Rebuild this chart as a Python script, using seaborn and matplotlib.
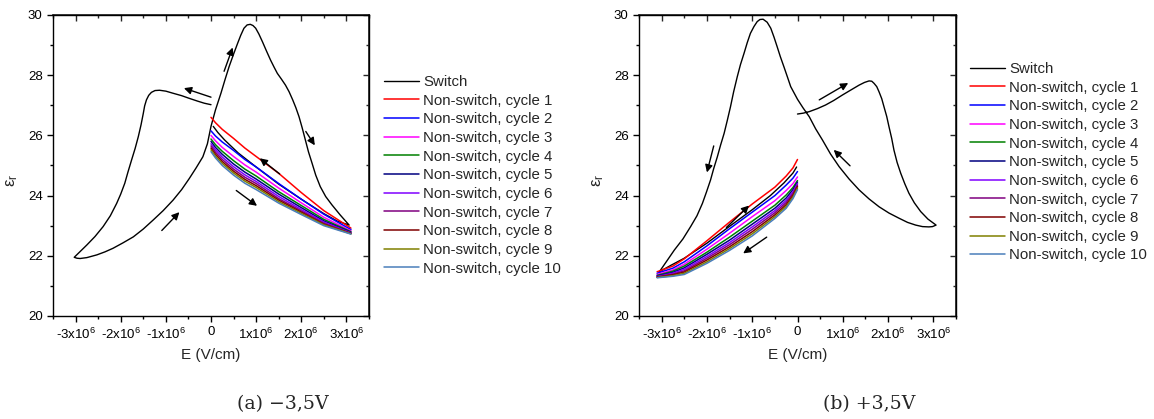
import numpy as np
import pandas as pd
import matplotlib
matplotlib.use("Agg")
import matplotlib.pyplot as plt
import seaborn as sns


# data (E in units of 1e6 V/cm, eps_r)
# panel (a) -3,5V : switch loop, in drawing order
sw_a_E = [0.0, -0.15, -0.3, -0.48, -0.65, -0.84, -1.0, -1.14, -1.24, -1.32, -1.38, -1.43, -1.47, -1.50,
          -1.55, -1.61, -1.68, -1.76, -1.84, -1.91, -2.0, -2.09, -2.23, -2.39, -2.57, -2.75, -2.9, -3.03,
          -2.97, -2.90, -2.75, -2.53, -2.35, -2.17, -1.95, -1.72, -1.5, -1.28, -1.06, -0.84, -0.65, -0.48,
          -0.33, -0.18, -0.08, 0.0, 0.1, 0.22, 0.31, 0.40, 0.5, 0.59, 0.66, 0.73, 0.8, 0.87, 0.93, 0.99,
          1.06, 1.14, 1.23, 1.32, 1.4, 1.47, 1.56, 1.65, 1.73, 1.81, 1.88, 1.95, 2.02, 2.09, 2.16, 2.24,
          2.32, 2.42, 2.54, 2.68, 2.86, 3.06,
          2.8, 2.5, 2.0, 1.5, 1.0, 0.6, 0.3, 0.15, 0.05]
sw_a_eps = [27.02, 27.07, 27.14, 27.23, 27.32, 27.40, 27.47, 27.50, 27.49, 27.43, 27.33, 27.18, 26.98, 26.73,
            26.35, 25.96, 25.57, 25.18, 24.78, 24.41, 24.05, 23.74, 23.33, 22.97, 22.64, 22.36, 22.14, 21.95,
            21.92, 21.91, 21.94, 22.03, 22.13, 22.25, 22.43, 22.63, 22.89, 23.19, 23.50, 23.85, 24.20, 24.57,
            24.92, 25.29, 25.72, 26.30, 26.85, 27.40, 27.85, 28.28, 28.70, 29.06, 29.33, 29.56, 29.67, 29.69, 29.65, 29.56,
            29.37, 29.11, 28.80, 28.50, 28.26, 28.06, 27.87, 27.67, 27.45, 27.18, 26.92, 26.62, 26.25, 25.85, 25.45, 25.07,
            24.68, 24.30, 23.97, 23.69, 23.36, 23.02,
            23.15, 23.40, 23.88, 24.38, 24.95, 25.42, 25.85, 26.10, 26.30]

ns_a_E = [0.0, 0.1, 0.25, 0.5, 0.75, 1.0, 1.5, 2.0, 2.5, 3.1]
ns_a_eps = {
    1: [26.60, 26.42, 26.20, 25.90, 25.58, 25.30, 24.74, 24.10, 23.50, 22.92],
    2: [26.15, 25.98, 25.78, 25.50, 25.20, 24.95, 24.40, 23.88, 23.38, 22.87],
    3: [26.00, 25.82, 25.60, 25.30, 25.02, 24.78, 24.25, 23.76, 23.28, 22.83],
    4: [25.88, 25.69, 25.47, 25.16, 24.88, 24.65, 24.13, 23.67, 23.21, 22.80],
    5: [25.80, 25.60, 25.37, 25.05, 24.78, 24.55, 24.05, 23.60, 23.16, 22.78],
    6: [25.72, 25.52, 25.28, 24.96, 24.69, 24.47, 23.97, 23.54, 23.12, 22.76],
    7: [25.65, 25.44, 25.20, 24.88, 24.61, 24.40, 23.90, 23.49, 23.08, 22.75],
    8: [25.58, 25.37, 25.13, 24.81, 24.54, 24.33, 23.85, 23.45, 23.05, 22.74],
    9: [25.52, 25.31, 25.07, 24.75, 24.48, 24.27, 23.80, 23.41, 23.03, 22.73],
    10: [25.46, 25.25, 25.00, 24.68, 24.41, 24.20, 23.75, 23.37, 23.00, 22.72],
}

# panel (b) +3,5V
sw_b_E = [0.0, 0.13, 0.26, 0.44, 0.62, 0.8, 0.99, 1.18, 1.36, 1.48, 1.58, 1.64, 1.69, 1.75, 1.80, 1.86,
          1.91, 1.97, 2.02, 2.08, 2.13, 2.2, 2.28, 2.37, 2.46, 2.58, 2.72, 2.88, 3.06,
          2.98, 2.90, 2.76, 2.61, 2.43, 2.24, 2.02, 1.80, 1.58, 1.36, 1.14, 0.92, 0.73, 0.55, 0.40, 0.26,
          0.12, 0.0, -0.15, -0.22, -0.30, -0.38, -0.45, -0.52, -0.59, -0.67, -0.76, -0.83, -0.89, -0.96,
          -1.04, -1.11, -1.18, -1.26, -1.33, -1.41, -1.48, -1.55, -1.62, -1.70, -1.77, -1.85, -1.92, -2.01,
          -2.10, -2.22, -2.36, -2.53, -2.72, -2.88, -3.05,
          -2.8, -2.5, -2.0, -1.5, -1.0, -0.6, -0.3, -0.1, -0.02]
sw_b_eps = [26.71, 26.74, 26.79, 26.89, 27.01, 27.16, 27.34, 27.51, 27.67, 27.76, 27.81, 27.80, 27.73, 27.62, 27.45, 27.22,
            26.95, 26.63, 26.29, 25.90, 25.51, 25.10, 24.74, 24.39, 24.08, 23.76, 23.47, 23.22, 23.02,
            22.97, 22.96, 22.97, 23.02, 23.11, 23.25, 23.42, 23.63, 23.89, 24.19, 24.55, 24.96, 25.38, 25.85, 26.22, 26.62,
            26.92, 27.20, 27.62, 27.93, 28.28, 28.62, 28.95, 29.27, 29.56, 29.76, 29.86, 29.85, 29.78, 29.62,
            29.39, 29.08, 28.73, 28.35, 27.95, 27.45, 26.95, 26.50, 26.07, 25.67, 25.29, 24.90, 24.52, 24.12,
            23.74, 23.33, 22.97, 22.56, 22.19, 21.84, 21.47,
            21.68, 21.92, 22.42, 22.98, 23.53, 24.00, 24.42, 24.75, 24.95]

ns_b_E = [-3.1, -2.75, -2.5, -2.0, -1.5, -1.0, -0.5, -0.25, -0.1, 0.0]
ns_b_eps = {
    1: [21.47, 21.66, 21.90, 22.50, 23.12, 23.72, 24.28, 24.65, 24.92, 25.20],
    2: [21.42, 21.59, 21.80, 22.33, 22.90, 23.45, 24.00, 24.35, 24.58, 24.80],
    3: [21.38, 21.53, 21.72, 22.22, 22.75, 23.30, 23.83, 24.17, 24.40, 24.62],
    4: [21.35, 21.49, 21.66, 22.12, 22.62, 23.15, 23.68, 24.02, 24.27, 24.50],
    5: [21.33, 21.45, 21.60, 22.05, 22.52, 23.05, 23.58, 23.92, 24.20, 24.45],
    6: [21.31, 21.42, 21.55, 21.98, 22.44, 22.96, 23.50, 23.84, 24.13, 24.40],
    7: [21.30, 21.39, 21.50, 21.92, 22.37, 22.88, 23.43, 23.77, 24.07, 24.35],
    8: [21.29, 21.37, 21.46, 21.86, 22.30, 22.80, 23.36, 23.70, 24.01, 24.30],
    9: [21.28, 21.34, 21.42, 21.80, 22.24, 22.73, 23.30, 23.64, 23.95, 24.25],
    10: [21.27, 21.32, 21.38, 21.75, 22.18, 22.66, 23.24, 23.58, 23.90, 24.20],
}

# direction arrows (tail E, tail eps, head E, head eps)
arrows_a = [(0.0, 27.27, -0.6, 27.57), (0.29, 28.13, 0.48, 28.92), (2.1, 26.13, 2.3, 25.67),
            (1.52, 24.72, 1.08, 25.24), (0.56, 24.17, 1.02, 23.66), (-1.09, 22.84, -0.70, 23.45)]
arrows_b = [(-1.85, 25.65, -2.0, 24.77), (-1.57, 22.94, -1.07, 23.67), (-0.68, 22.62, -1.2, 22.08),
            (0.48, 27.18, 1.12, 27.74), (1.16, 24.99, 0.8, 25.52)]

cycle_colors = ["#FF0000", "#0000FF", "#FF00FF", "#008000", "#000080",
                "#8000FF", "#800080", "#800000", "#808000", "#4A7EBB"]
xticks = [-3, -2, -1, 0, 1, 2, 3]
xtick_labels = ["-3x10$^6$", "-2x10$^6$", "-1x10$^6$", "0", "1x10$^6$", "2x10$^6$", "3x10$^6$"]
yticks = [20, 22, 24, 26, 28, 30]

sns.set_theme(style="ticks")
plt.rcParams["font.family"] = ["Liberation Sans", "DejaVu Sans"]
plt.rcParams["mathtext.default"] = "regular"

W, H = 1154, 419
fig = plt.figure(figsize=(W / 100, H / 100), dpi=100)


def px_axes(x0, x1, y0, y1):
    return fig.add_axes([x0 / W, 1 - y1 / H, (x1 - x0) / W, (y1 - y0) / H])


def draw_panel(ax, swE, sweps, nsE, nseps, arrows):
    sw = pd.DataFrame({"E": swE, "eps": sweps})
    sns.lineplot(data=sw, x="E", y="eps", sort=False, estimator=None, color="black",
                 lw=1.0, label="Switch", ax=ax)
    for i, c in zip(range(1, 11), cycle_colors):
        d = pd.DataFrame({"E": nsE, "eps": nseps[i]})
        sns.lineplot(data=d, x="E", y="eps", sort=False, estimator=None, color=c,
                     lw=1.1, label=f"Non-switch, cycle {i}", ax=ax)
    for (x0, y0, x1, y1) in arrows:
        ax.annotate("", xy=(x1, y1), xytext=(x0, y0),
                    arrowprops=dict(arrowstyle="-|>", color="black", lw=1.0, mutation_scale=11,
                                    shrinkA=0, shrinkB=0))
    ax.set_xlim(-3.5, 3.5)
    ax.set_ylim(20, 30)
    ax.set_xticks(xticks)
    ax.set_xticklabels(xtick_labels)
    ax.set_xticks(np.arange(-3.5, 3.6, 0.5), minor=True)
    ax.set_yticks(yticks)
    ax.set_yticks(range(20, 31), minor=True)
    ax.tick_params(which="both", bottom=True, left=True, direction="out", labelsize=9.5,
                   colors="black", width=1.0)
    ax.tick_params(which="major", length=4.5, pad=3)
    ax.tick_params(which="minor", length=2.5)
    # mirrored inward ticks on top and right
    top = ax.secondary_xaxis("top")
    top.set_xticks(xticks)
    top.set_xticks(np.arange(-3.5, 3.6, 0.5), minor=True)
    top.tick_params(which="both", direction="in", labeltop=False, width=1.0)
    top.tick_params(which="major", length=4.5)
    top.tick_params(which="minor", length=2.5)
    right = ax.secondary_yaxis("right")
    right.set_yticks(yticks)
    right.set_yticks(range(20, 31), minor=True)
    right.tick_params(which="both", direction="in", labelright=False, width=1.0)
    right.tick_params(which="major", length=4.5)
    right.tick_params(which="minor", length=2.5)
    for s in ax.spines.values():
        s.set_color("black")
        s.set_linewidth(1.0)
    ax.set_xlabel("E (V/cm)", fontsize=11)
    ax.set_ylabel("ε$_r$", fontsize=12)
    ax.xaxis.set_label_coords(0.5, -0.105)
    ax.yaxis.set_label_coords(-0.105, 0.45)
    ax.get_legend().remove()


ax_a = px_axes(53, 369, 15, 316)
draw_panel(ax_a, sw_a_E, sw_a_eps, ns_a_E, ns_a_eps, arrows_a)
ax_b = px_axes(639, 956, 15, 316)
draw_panel(ax_b, sw_b_E, sw_b_eps, ns_b_E, ns_b_eps, arrows_b)

for ax, lx, ly in [(ax_a, 384, 75), (ax_b, 970, 62)]:
    h, l = ax.get_legend_handles_labels()
    fig.legend(h, l, loc="upper left", bbox_to_anchor=(lx / W, 1 - ly / H), frameon=False,
               fontsize=10.8, handlelength=2.3, handletextpad=0.3, labelspacing=0.31,
               borderpad=0, borderaxespad=0)

fig.text(283 / W, 1 - 404 / H, "(a) −3,5V", family="DejaVu Serif", fontsize=13.6,
         ha="center", va="center")
fig.text(869 / W, 1 - 404 / H, "(b) +3,5V", family="DejaVu Serif", fontsize=13.6,
         ha="center", va="center")

fig.savefig("out.png", dpi=100)
